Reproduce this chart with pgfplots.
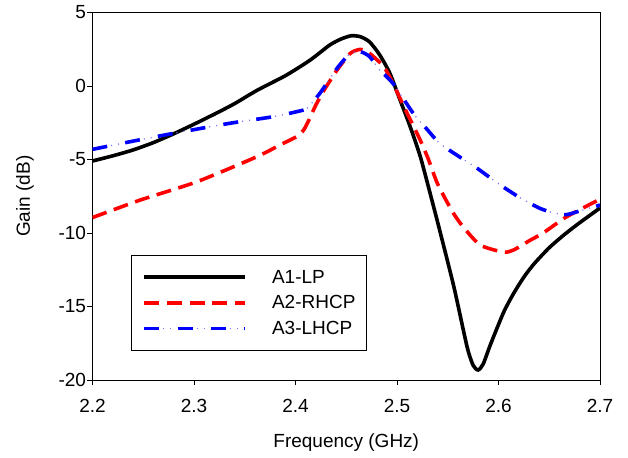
\documentclass[border=0pt]{standalone}
\usepackage{pgfplots}
\pgfplotsset{compat=1.18}
\usetikzlibrary{calc}
\usepackage{fontspec}
\setmainfont{Liberation Sans}
\newcommand{\chartfont}{\fontsize{19}{22}\selectfont}
\begin{document}
\begin{tikzpicture}
\begin{axis}[
  scale only axis,
  width=507.5pt, height=367.5pt,
  xmin=2.2, xmax=2.7, ymin=-20, ymax=5,
  xtick={2.2,2.3,2.4,2.5,2.6,2.7},
  xticklabels={2.2,2.3,2.4,2.5,2.6,2.7},
  ytick={-20,-15,-10,-5,0,5},
  yticklabels={-20,-15,-10,-5,0,5},
  tick align=outside, xtick pos=bottom, ytick pos=left,
  major tick length=5pt,
  axis line style={line width=0.9pt},
  major tick style={black, line width=0.9pt},
  font=\chartfont,
  tick label style={font=\chartfont},
  xticklabel style={yshift=-11pt},
  yticklabel style={xshift=2pt},
  label style={font=\chartfont},
  xlabel={Frequency (GHz)},
  ylabel={Gain (dB)},
  xlabel style={at={(axis description cs:0.5,-0.185)}, anchor=base},
  ylabel style={at={(axis description cs:-0.1232,0.5)}, anchor=base},
  legend style={at={(axis description cs:0.0759,0.3401)}, anchor=north west,
    draw=black, line width=0.9pt, inner xsep=11pt, inner ysep=14.5pt,
    row sep=11pt, column sep=25pt, nodes={inner sep=0pt}, font=\chartfont},
  legend cell align=left,
]
\addplot[black, line width=3.6pt, smooth, tension=0.4,
  legend image code/.code={\draw[black, line width=3.6pt] (0pt,0pt) -- (101pt,0pt);}]
  coordinates {
  (2.200,-5.10)(2.220,-4.75)(2.240,-4.35)(2.260,-3.85)(2.280,-3.25)
  (2.300,-2.60)(2.322,-1.85)(2.340,-1.20)(2.362,-0.30)(2.390,0.70)
  (2.411,1.60)(2.420,2.05)(2.434,2.80)(2.445,3.20)
  (2.455,3.42)(2.464,3.35)(2.473,3.00)(2.483,2.11)(2.493,0.86)
  (2.503,-0.95)(2.513,-2.77)(2.523,-4.81)(2.533,-7.40)(2.542,-9.80)
  (2.556,-13.65)(2.569,-17.73)(2.575,-19.00)(2.580,-19.32)(2.585,-18.90)
  (2.592,-17.60)(2.605,-15.40)(2.615,-14.10)(2.625,-13.00)(2.635,-12.10)
  (2.650,-11.00)(2.665,-10.10)(2.680,-9.30)(2.700,-8.30)
  };
\addlegendentry{A1-LP}
\addplot[red, line width=3.6pt, smooth, tension=0.4, dash pattern=on 15pt off 7.7pt,
  legend image code/.code={\draw[red, line width=3.6pt, dash pattern=on 15pt off 7.7pt] (0pt,0pt) -- (101pt,0pt);}]
  coordinates {
  (2.200,-8.95)(2.247,-7.76)(2.303,-6.51)(2.362,-4.81)(2.385,-4.00)
  (2.401,-3.45)(2.408,-3.00)(2.414,-2.20)(2.420,-1.30)(2.428,-0.30)
  (2.441,1.09)(2.454,2.22)(2.464,2.49)(2.473,2.22)(2.487,1.31)
  (2.496,0.18)(2.510,-1.86)(2.523,-3.70)(2.531,-5.00)(2.539,-6.50)
  (2.547,-7.60)(2.556,-8.70)(2.565,-9.57)(2.582,-10.82)(2.605,-11.30)
  (2.615,-11.15)(2.631,-10.50)(2.644,-10.00)(2.667,-8.90)(2.700,-7.70)
  };
\addlegendentry{A2-RHCP}
\addplot[blue, line width=3.6pt, smooth, tension=0.4, dash pattern=on 15pt off 18.3pt,
  legend image code/.code={
    \draw[blue, line width=3.6pt, dash pattern=on 15pt off 18.3pt] (0pt,0pt) -- (101pt,0pt);
    \draw[blue!55, line width=1.3pt, dash pattern=on 0pt off 19pt on 1pt off 6pt on 1pt off 6.3pt] (0pt,0pt) -- (101pt,0pt);}]
  coordinates {
  (2.200,-4.31)(2.240,-3.75)(2.280,-3.22)(2.335,-2.54)(2.378,-2.09)
  (2.401,-1.75)(2.411,-1.55)(2.418,-1.00)(2.424,-0.50)(2.431,0.20)
  (2.442,1.30)(2.454,2.22)(2.464,2.33)(2.473,2.00)(2.483,1.09)
  (2.496,0.18)(2.516,-1.86)(2.529,-2.90)(2.542,-3.90)(2.560,-4.75)
  (2.579,-5.60)(2.600,-6.65)(2.620,-7.55)(2.640,-8.30)(2.655,-8.65)
  (2.667,-8.75)(2.680,-8.50)(2.690,-8.30)(2.700,-8.10)
  };
\addlegendentry{A3-LHCP}
\addplot[blue!55, line width=1.3pt, smooth, tension=0.4, forget plot,
  dash pattern=on 0pt off 19pt on 1pt off 6pt on 1pt off 6.3pt]
  coordinates {
  (2.200,-4.31)(2.240,-3.75)(2.280,-3.22)(2.335,-2.54)(2.378,-2.09)
  (2.401,-1.75)(2.411,-1.55)(2.418,-1.00)(2.424,-0.50)(2.431,0.20)
  (2.442,1.30)(2.454,2.22)(2.464,2.33)(2.473,2.00)(2.483,1.09)
  (2.496,0.18)(2.516,-1.86)(2.529,-2.90)(2.542,-3.90)(2.560,-4.75)
  (2.579,-5.60)(2.600,-6.65)(2.620,-7.55)(2.640,-8.30)(2.655,-8.65)
  (2.667,-8.75)(2.680,-8.50)(2.690,-8.30)(2.700,-8.10)
  };
\end{axis}
\pgfresetboundingbox
\useasboundingbox ($(current axis.south west)+(-92.5pt,-77pt)$) rectangle ($(current axis.north east)+(28pt,12.5pt)$);
\end{tikzpicture}
\end{document}
